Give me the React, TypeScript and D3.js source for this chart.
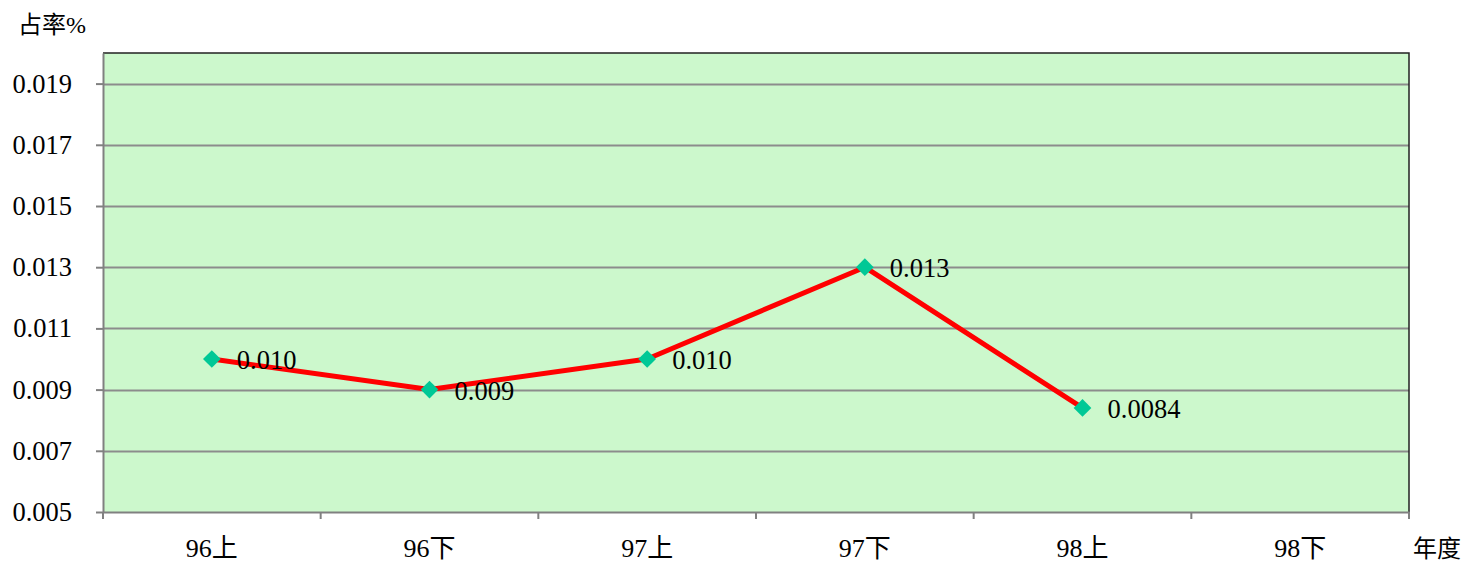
import * as d3 from 'd3';
import React, { useRef, useEffect } from 'react';

const categories = ['96上', '96下', '97上', '97下', '98上', '98下'];
const values = [0.010, 0.009, 0.010, 0.013, 0.0084];
const valueLabels = ['0.010', '0.009', '0.010', '0.013', '0.0084'];
const yTicks = [0.005, 0.007, 0.009, 0.011, 0.013, 0.015, 0.017, 0.019];

const W = 1468;
const H = 566;
const FONT = '"Liberation Serif", "Times New Roman", "Noto Sans CJK TC", serif';

export default function App() {
  const svgRef = useRef<SVGSVGElement>(null);

  useEffect(() => {
    const svg = d3.select(svgRef.current);
    svg.selectAll('*').remove();

    const left = 103, right = 1409, top = 53, bottom = 512;

    const x = d3.scaleBand().domain(categories).range([left, right]);
    const y = d3.scaleLinear().domain([0.005, 0.020]).range([bottom, top]);

    // plot area
    svg.append('rect')
      .attr('x', left).attr('y', top)
      .attr('width', right - left).attr('height', bottom - top)
      .attr('fill', '#ccf8cc');

    // gridlines
    svg.append('g')
      .selectAll('line')
      .data(yTicks.slice(1))
      .join('line')
      .attr('x1', left).attr('x2', right)
      .attr('y1', d => Math.round(y(d)) + 0.5).attr('y2', d => Math.round(y(d)) + 0.5)
      .attr('stroke', '#8c8c8c').attr('stroke-width', 2);

    // top and right border
    svg.append('path')
      .attr('d', `M${left},${top}H${right}V${bottom}`)
      .attr('fill', 'none').attr('stroke', '#222').attr('stroke-width', 1.5);

    // y axis
    const yAxis = d3.axisLeft(y)
      .tickValues(yTicks)
      .tickSizeInner(7)
      .tickSizeOuter(0)
      .tickPadding(24)
      .tickFormat(d3.format('.3f'));
    const gy = svg.append('g').attr('transform', `translate(${left},0)`).call(yAxis);
    gy.select('.domain').attr('stroke', '#808080').attr('stroke-width', 2);
    gy.selectAll('.tick line').attr('stroke', '#808080').attr('stroke-width', 2);
    gy.selectAll('text')
      .attr('font-family', FONT).attr('font-size', 26.5).attr('fill', '#000');

    // x axis
    const xAxis = d3.axisBottom(x).tickSize(0).tickPadding(27);
    const gx = svg.append('g').attr('transform', `translate(0,${bottom})`).call(xAxis);
    gx.select('.domain').attr('stroke', '#808080').attr('stroke-width', 2);
    gx.selectAll('text')
      .attr('font-family', FONT).attr('font-size', 26).attr('fill', '#000');
    const bounds = [...categories.map(c => x(c) as number), right];
    gx.selectAll('.bound')
      .data(bounds)
      .join('line')
      .attr('class', 'bound')
      .attr('x1', d => d).attr('x2', d => d)
      .attr('y1', 0).attr('y2', 7)
      .attr('stroke', '#808080').attr('stroke-width', 2);

    const pts = values.map((v, i) => [
      (x(categories[i]) as number) + x.bandwidth() / 2,
      y(v),
    ] as [number, number]);

    // line
    svg.append('path')
      .datum(pts)
      .attr('d', d3.line())
      .attr('fill', 'none')
      .attr('stroke', '#ff0000')
      .attr('stroke-width', 5)
      .attr('stroke-linejoin', 'round');

    // markers
    svg.append('g')
      .selectAll('path')
      .data(pts)
      .join('path')
      .attr('transform', d => `translate(${d[0]},${d[1]})`)
      .attr('d', d3.symbol(d3.symbolDiamond2, 200)())
      .attr('fill', '#00c896');

    // data labels
    svg.append('g')
      .selectAll('text')
      .data(pts)
      .join('text')
      .attr('x', d => d[0] + 25)
      .attr('y', d => d[1] + 10)
      .attr('font-family', FONT).attr('font-size', 26.5)
      .text((_, i) => valueLabels[i]);

    // axis titles
    svg.append('text')
      .attr('x', 18).attr('y', 33)
      .attr('font-family', FONT).attr('font-size', 24)
      .text('占率%');
    svg.append('text')
      .attr('x', 1413).attr('y', 557)
      .attr('font-family', FONT).attr('font-size', 24)
      .text('年度');
  }, []);

  return (
    <svg
      ref={svgRef}
      width={W}
      height={H}
      style={{ position: 'absolute', left: 0, top: 0, background: '#fff' }}
    />
  );
}
